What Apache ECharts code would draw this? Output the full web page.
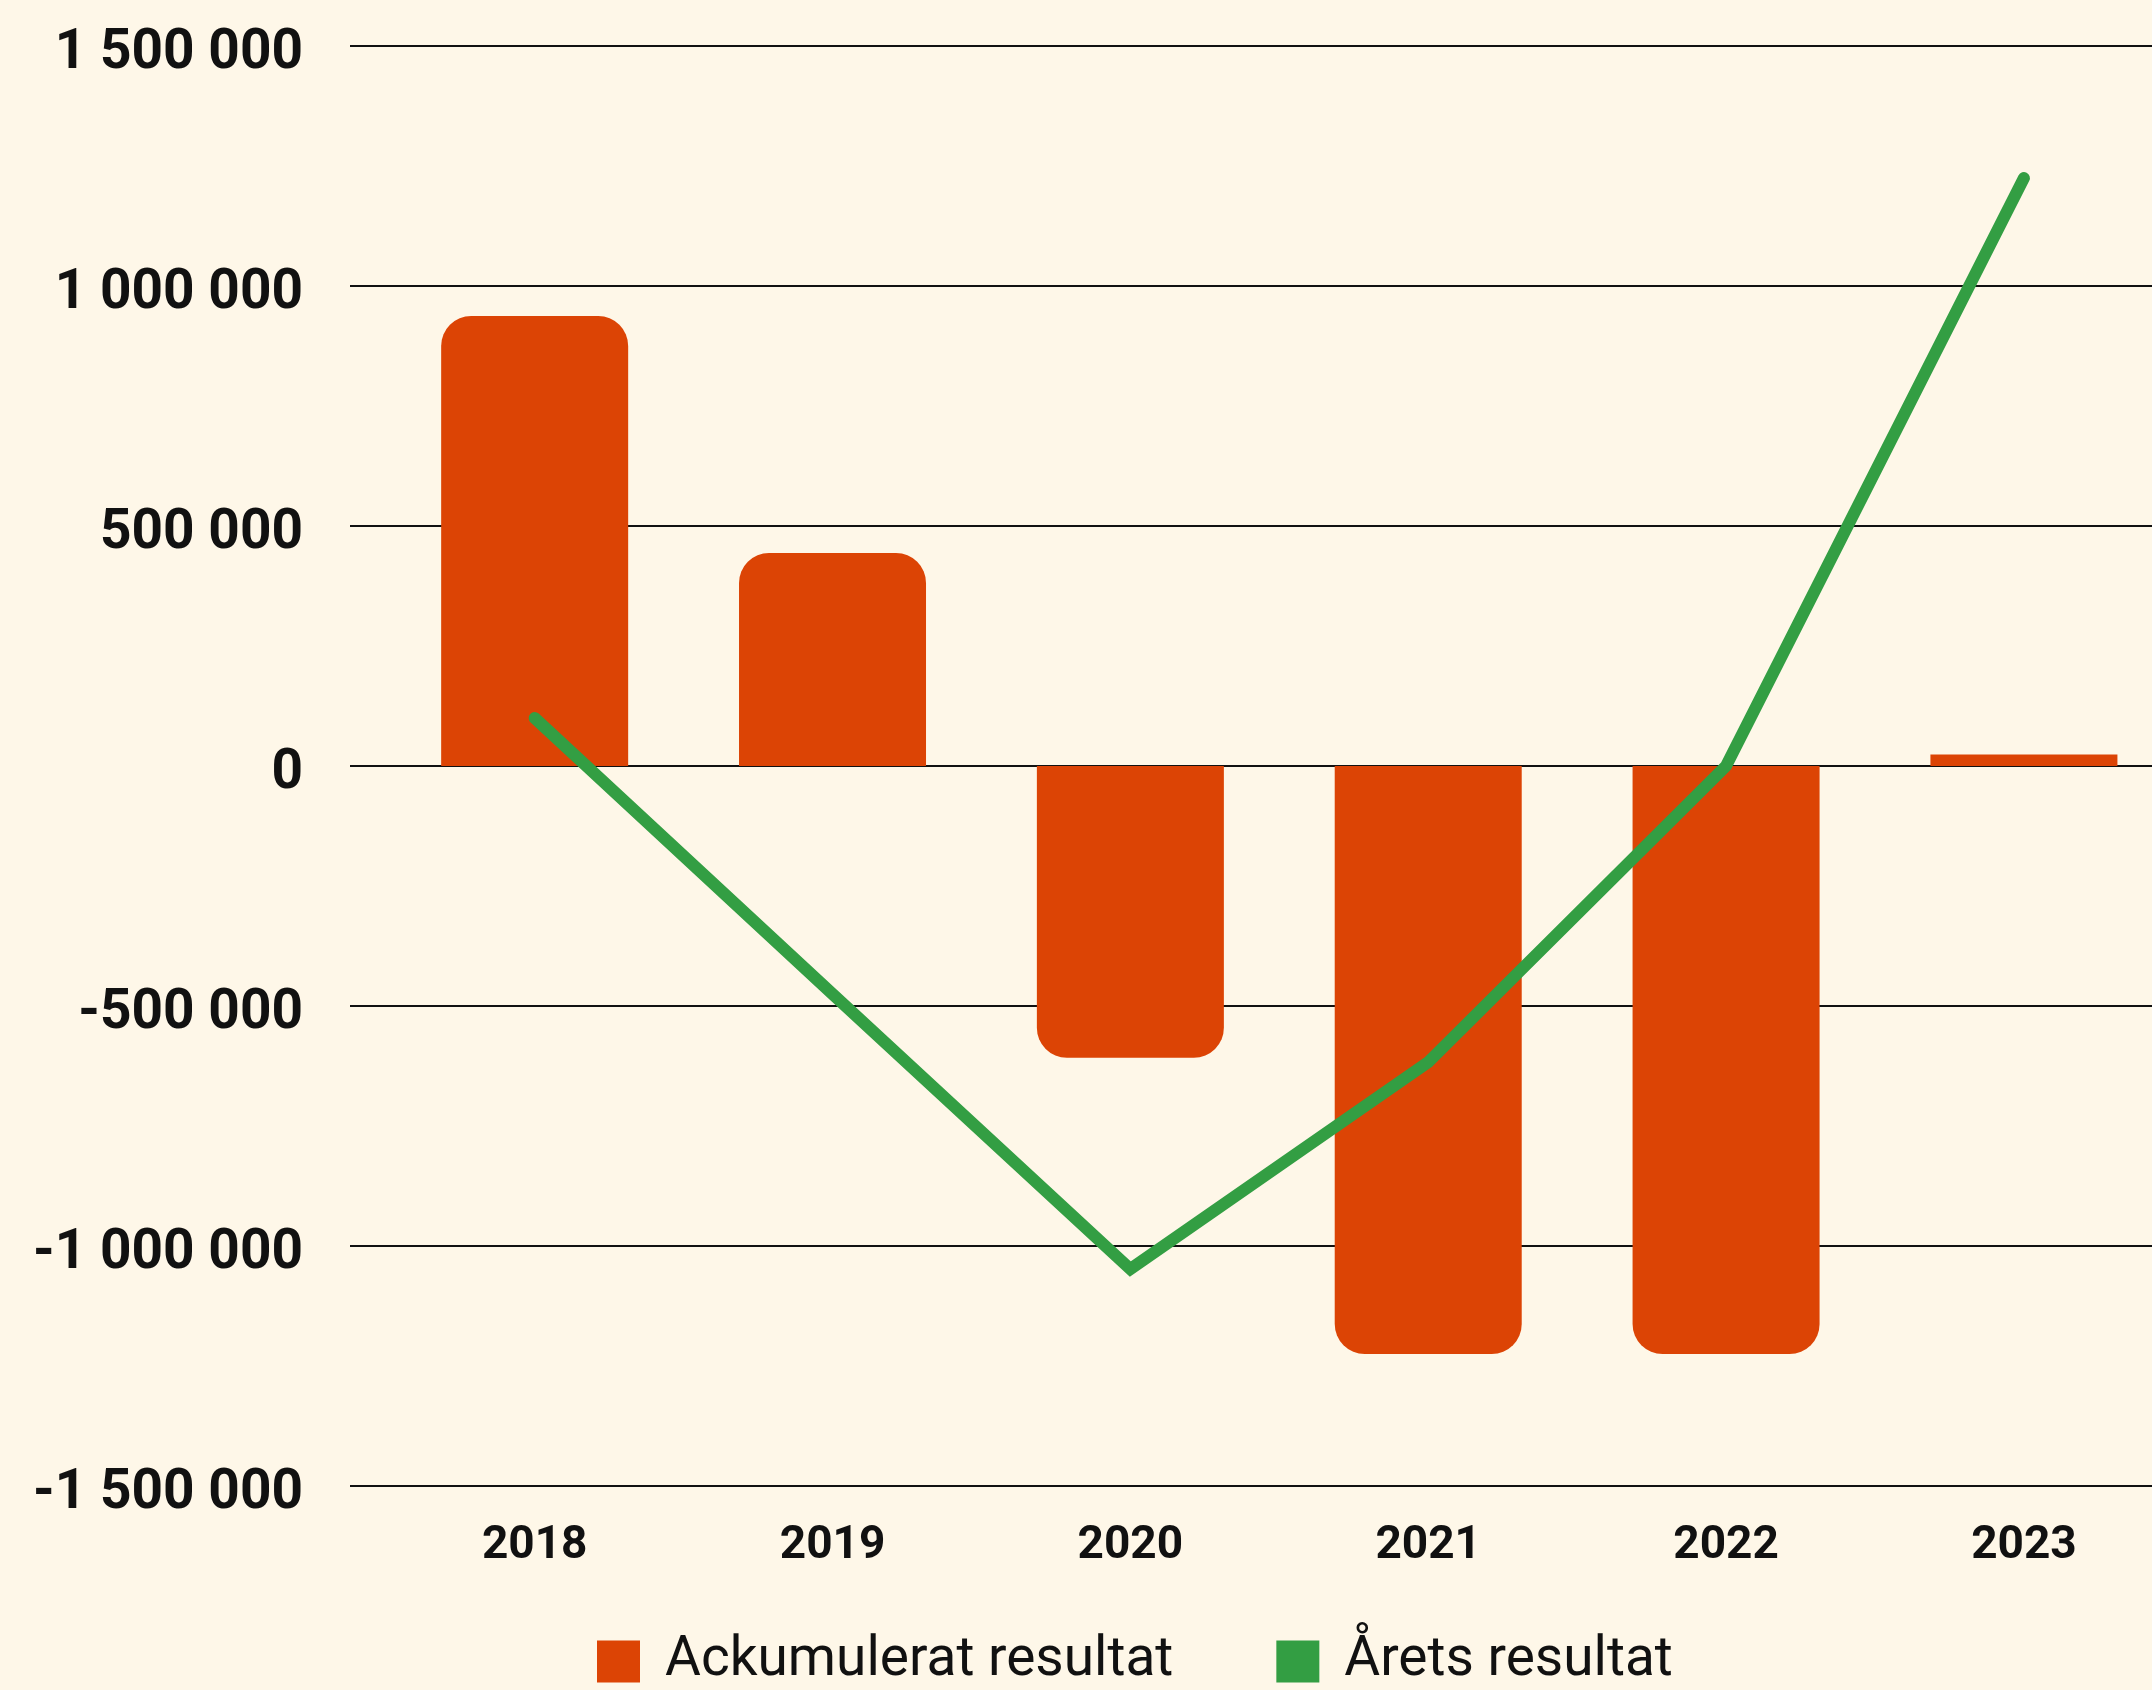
<!DOCTYPE html>
<html>
<head>
<meta charset="utf-8">
<script src="https://cdn.jsdelivr.net/npm/echarts@6/dist/echarts.min.js"></script>
<style>
  html, body { margin: 0; padding: 0; background: #FEF7E8; }
  #chart { width: 2152px; height: 1690px; }
</style>
</head>
<body>
<div id="chart"></div>
<script>
// ---- data ----
const categories = ['2018', '2019', '2020', '2021', '2022', '2023'];
const ackumuleratResultat = [937500, 443750, -608000, -1225000, -1225000, 24000];
const aretsResultat = [100000, -475000, -1048000, -617000, 0, 1225000];
const yTicks = [-1500000, -1000000, -500000, 0, 500000, 1000000, 1500000];

const seriesNames = ['Ackumulerat resultat', '\u00c5rets resultat'];
const barColor = '#DC4405';
const lineColor = '#339E43';

function fmt(v) {
  const s = Math.abs(v).toString().replace(/\B(?=(\d{3})+(?!\d))/g, ' ');
  return (v < 0 ? '-' : '') + s;
}

const R = 30;
const barData = ackumuleratResultat.map((v, i) => ({
  value: [i, v],
  itemStyle: {
    borderRadius: Math.abs(v) < 100000 ? 0 : (v >= 0 ? [R, R, 0, 0] : [0, 0, R, R])
  }
}));
const lineData = aretsResultat.map((v, i) => [i, v]);

const chart = echarts.init(document.getElementById('chart'), null, { renderer: 'canvas' });
chart.setOption({
  backgroundColor: '#FEF7E8',
  animation: false,
  grid: { left: 350, right: 0, top: 46, bottom: 204, containLabel: false },
  legend: {
    left: 592,
    top: 1629,
    icon: 'rect',
    itemWidth: 43,
    itemHeight: 42,
    itemGap: 103,
    data: seriesNames,
    textStyle: {
      fontFamily: 'Roboto',
      fontSize: 55,
      color: '#111',
      padding: [0, 0, 0, 20]
    }
  },
  xAxis: {
    type: 'value',
    min: -0.62,
    max: 5.43,
    axisLine: { show: false },
    axisTick: { show: false },
    splitLine: { show: false },
    axisLabel: {
      customValues: categories.map((c, i) => i),
      formatter: v => categories[Math.round(v)] || '',
      fontFamily: 'Roboto',
      fontWeight: 'bold',
      fontSize: 46,
      color: '#111',
      margin: 37
    }
  },
  yAxis: {
    type: 'value',
    min: yTicks[0],
    max: yTicks[yTicks.length - 1],
    interval: 500000,
    axisLine: { show: false },
    axisTick: { show: false },
    splitLine: { show: true, lineStyle: { color: '#111', width: 2 } },
    axisLabel: {
      formatter: fmt,
      fontFamily: 'Roboto',
      fontWeight: 'bold',
      fontSize: 55,
      color: '#111',
      margin: 47,
      verticalAlign: 'top',
      lineHeight: 16
    }
  },
  series: [
    {
      name: seriesNames[0],
      type: 'bar',
      data: barData,
      barWidth: 187,
      itemStyle: { color: barColor },
      z: 2
    },
    {
      name: seriesNames[1],
      type: 'line',
      data: lineData,
      showSymbol: false,
      symbol: 'none',
      itemStyle: { color: lineColor },
      lineStyle: { color: lineColor, width: 12, cap: 'round', join: 'miter' },
      z: 3
    }
  ]
});
</script>
</body>
</html>
